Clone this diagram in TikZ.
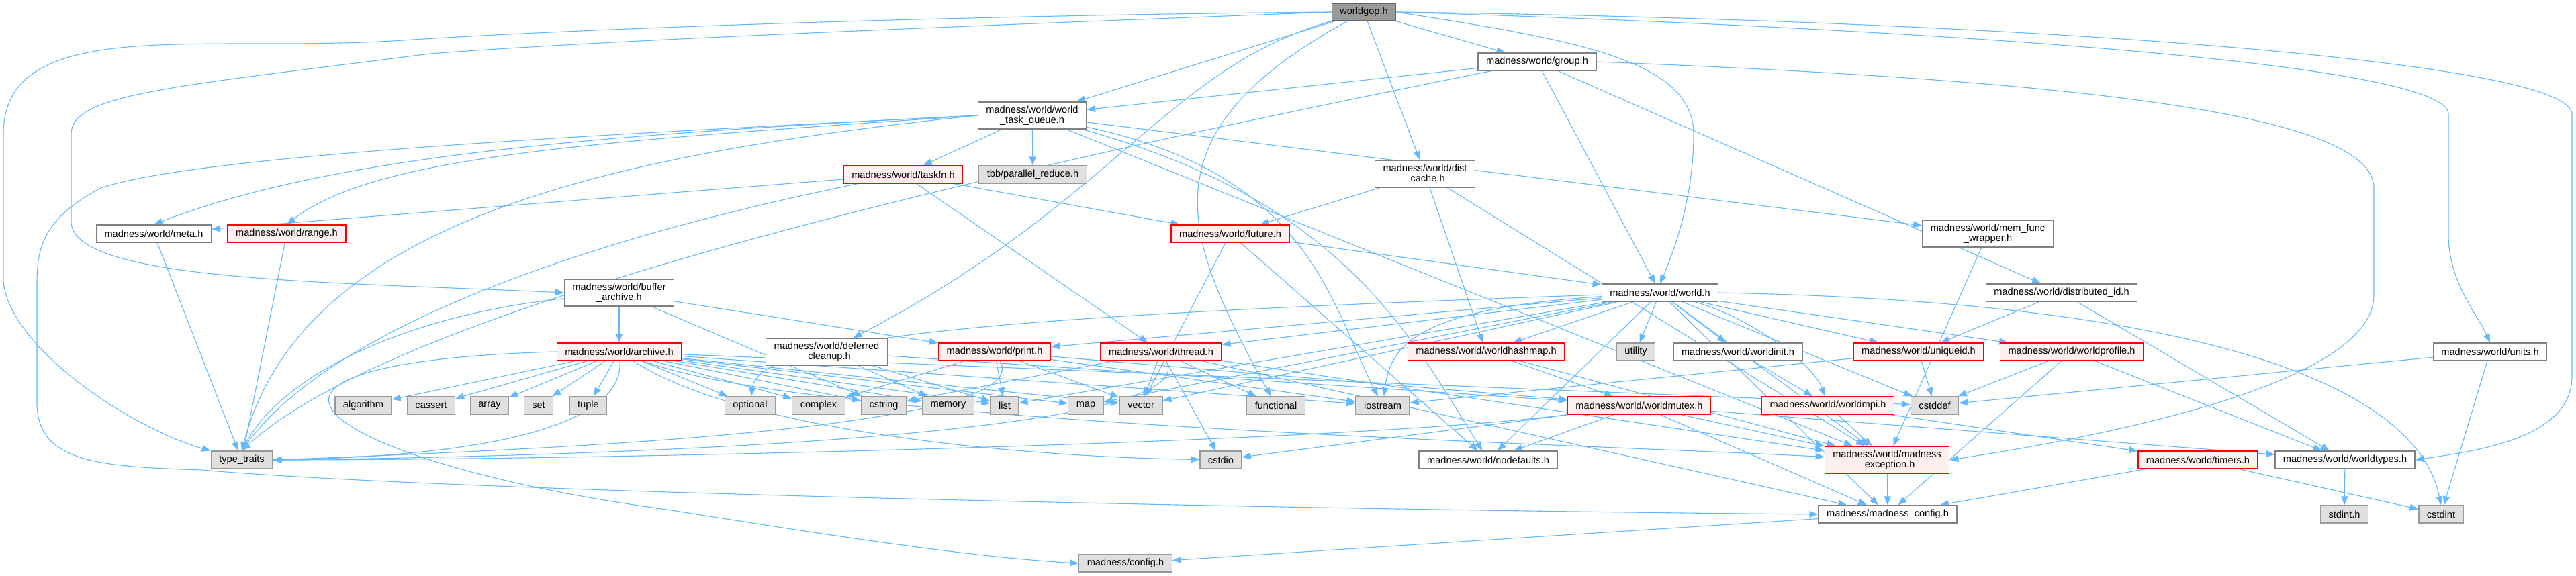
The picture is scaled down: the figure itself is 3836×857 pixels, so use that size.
\documentclass[tikz,border=0pt]{standalone}
\usepackage{fontspec}
\setmainfont{Liberation Sans}
\usetikzlibrary{arrows.meta,backgrounds}
\definecolor{edgeBlue}{RGB}{99,184,255}
\definecolor{redFill}{RGB}{255,240,240}
\definecolor{sysFill}{RGB}{224,224,224}
\definecolor{sysLine}{RGB}{153,153,153}
\definecolor{hdrLine}{RGB}{128,128,128}
\definecolor{rootFill}{RGB}{153,153,153}
\definecolor{rootLine}{RGB}{102,102,102}

\begin{document}
\begin{tikzpicture}[x=1pt, y=-1pt, >={Triangle[length=13pt,width=10pt]},
  hdr/.style={draw=hdrLine, fill=white, line width=1.3pt, font=\fontsize{14.6}{15}\selectfont,
    inner xsep=12pt, inner ysep=2pt, minimum height=26pt, align=center},
  redhdr/.style={hdr, draw=red, fill=redFill},
  syshdr/.style={hdr, draw=sysLine, fill=sysFill},
  roothdr/.style={hdr, draw=rootLine, fill=rootFill},
  twoline/.style={minimum height=40pt},
  dep/.style={->, draw=edgeBlue, line width=1.1pt}]
\useasboundingbox (0,0) rectangle (3836,857);

% top ranks
\node[roothdr] (gop) at (2031,18) {worldgop.h};
\node[hdr] (grp) at (2289,92) {madness/world/group.h};
\node[hdr, twoline] (wtq) at (1537,172) {madness/world/world\\\_task\_queue.h};
\node[hdr, twoline] (dcache) at (2122,259) {madness/world/dist\\\_cache.h};
\node[redhdr] (taskfn) at (1345,260) {madness/world/taskfn.h};
\node[syshdr] (tbb) at (1538,260) {tbb/parallel\_reduce.h};
\node[hdr] (meta) at (229,348) {madness/world/meta.h};
\node[redhdr] (range) at (427,348) {madness/world/range.h};
\node[redhdr] (future) at (1832,348) {madness/world/future.h};
\node[hdr, twoline] (memfn) at (2960,348) {madness/world/mem\_func\\\_wrapper.h};
\node[hdr, twoline] (bufar) at (922,436) {madness/world/buffer\\\_archive.h};
\node[hdr] (world) at (2472,436) {madness/world/world.h};
\node[hdr] (distid) at (3070,436) {madness/world/distributed\_id.h};

% middle rank
\node[redhdr] (archive) at (922,524) {madness/world/archive.h};
\node[hdr, twoline] (defcl) at (1231,524) {madness/world/deferred\\\_cleanup.h};
\node[redhdr] (print) at (1481,524) {madness/world/print.h};
\node[redhdr] (thread) at (1729,524) {madness/world/thread.h};
\node[redhdr] (whash) at (2213,524) {madness/world/worldhashmap.h};
\node[syshdr] (utility) at (2436,524) {utility};
\node[hdr] (winit) at (2588,524) {madness/world/worldinit.h};
\node[redhdr] (uniq) at (2857,524) {madness/world/uniqueid.h};
\node[redhdr] (wprof) at (3085,524) {madness/world/worldprofile.h};
\node[hdr] (units) at (3708,524) {madness/world/units.h};

% system headers
\node[syshdr] (algorithm) at (541,604) {algorithm};
\node[syshdr] (cassert) at (642,604) {cassert};
\node[syshdr] (array) at (729,604) {array};
\node[syshdr] (set) at (802,604) {set};
\node[syshdr] (tuple) at (876,604) {tuple};
\node[syshdr] (optional) at (1117,604) {optional};
\node[syshdr] (complex) at (1219,604) {complex};
\node[syshdr] (cstring) at (1316,604) {cstring};
\node[syshdr] (memory) at (1412,604) {memory};
\node[syshdr] (list) at (1496,604) {list};
\node[syshdr] (map) at (1617,604) {map};
\node[syshdr] (vector) at (1699,604) {vector};
\node[syshdr] (functional) at (1900,604) {functional};
\node[syshdr] (iostream) at (2059,604) {iostream};
\node[redhdr] (wmutex) at (2441,604) {madness/world/worldmutex.h};
\node[redhdr] (wmpi) at (2722,604) {madness/world/worldmpi.h};
\node[syshdr] (cstddef) at (2881,604) {cstddef};

% lower ranks
\node[syshdr] (typetraits) at (360,685) {type\_traits};
\node[syshdr] (cstdio) at (1818,685) {cstdio};
\node[hdr] (nodef) at (2216,685) {madness/world/nodefaults.h};
\node[redhdr, twoline] (mexc) at (2810,685) {madness/world/madness\\\_exception.h};
\node[redhdr] (timers) at (3273,685) {madness/world/timers.h};
\node[hdr] (wtypes) at (3492,685) {madness/world/worldtypes.h};
\node[hdr] (mconf) at (2811,766) {madness/madness\_config.h};
\node[syshdr] (stdint) at (3491,766) {stdint.h};
\node[syshdr] (cstdint) at (3635,766) {cstdint};
\node[syshdr] (config) at (1676,839) {madness/config.h};

\begin{pgfonlayer}{background}
% worldgop.h
\draw[dep] (gop.west) .. controls (1500,22) and (900,40) .. (600,60) .. controls (300,80) and (5,20) .. (5,200) -- (5,420) .. controls (15,520) and (200,640) .. (typetraits.north west);
\draw[dep] (gop.west) .. controls (1400,40) and (900,60) .. (640,80) .. controls (250,130) and (106,140) .. (106,200) -- (106,330) .. controls (106,420) and (500,420) .. (bufar.west);
\draw[dep] (gop) -- (wtq);
\draw[dep] (gop) .. controls (1740,100) and (1660,300) .. (defcl);
\draw[dep] (gop) .. controls (1700,200) and (1760,350) .. (functional);
\draw[dep] (gop) -- (grp);
\draw[dep] (gop) -- (dcache);
\draw[dep] (gop.east) .. controls (2350,60) and (2522,90) .. (2522,200) .. controls (2522,300) and (2490,380) .. (world.north);
\draw[dep] (gop.east) .. controls (2800,40) and (3646,90) .. (3646,170) -- (3646,350) .. controls (3646,420) and (3690,470) .. (units.north);
\draw[dep] (gop.east) .. controls (3000,30) and (3830,90) .. (3830,170) -- (3830,560) .. controls (3830,650) and (3700,670) .. (wtypes.east);
% group.h
\draw[dep] (grp) -- (wtq);
\draw[dep] (grp) -- (world);
\draw[dep] (grp) -- (distid);
\draw[dep] (grp) .. controls (1500,250) and (600,450) .. (typetraits.north);
\draw[dep] (grp.east) .. controls (3100,120) and (3535,170) .. (3535,280) -- (3535,440) .. controls (3535,560) and (3200,640) .. (mexc.east);
% world_task_queue.h
\draw[dep] (wtq) -- (taskfn);
\draw[dep] (wtq) -- (tbb);
\draw[dep] (wtq.west) .. controls (900,200) and (500,230) .. (meta.north);
\draw[dep] (wtq.west) .. controls (900,210) and (560,230) .. (range.north);
\draw[dep] (wtq.west) .. controls (900,230) and (450,330) .. (typetraits.north);
\draw[dep] (wtq) -- (memfn);
\draw[dep] (wtq) .. controls (1950,260) and (1980,450) .. (iostream);
\draw[dep] (wtq) .. controls (2000,300) and (2100,500) .. (nodef);
\draw[dep] (wtq) -- (mexc);
\draw[dep] (wtq.west) .. controls (900,200) and (300,230) .. (150,280) .. controls (55,330) and (55,380) .. (55,430) -- (55,600) .. controls (55,690) and (150,695) .. (300,700) .. controls (700,735) and (2000,760) .. (mconf.west);
% dist_cache.h
\draw[dep] (dcache) -- (future);
\draw[dep] (dcache) -- (whash);
\draw[dep] (dcache) -- (mexc);
% taskfn.h
\draw[dep] (taskfn) -- (meta);
\draw[dep] (taskfn) .. controls (900,350) and (500,480) .. (typetraits.north);
\draw[dep] (taskfn) -- (future);
\draw[dep] (taskfn) -- (thread);
% future.h
\draw[dep] (future) -- (world);
\draw[dep] (future) -- (vector);
\draw[dep] (future) -- (nodef);
\draw[dep] (meta) -- (typetraits);
\draw[dep] (range) -- (typetraits);
% buffer_archive.h
\draw[dep] (bufar) -- (archive);
\draw[dep] (bufar) .. controls (600,470) and (420,560) .. (typetraits.north);
\draw[dep] (bufar) -- (print);
\draw[dep] (bufar) -- (cstring);
% world.h
\draw[dep] (world) -- (print);
\draw[dep] (world) -- (thread);
\draw[dep] (world) -- (whash);
\draw[dep] (world) -- (utility);
\draw[dep] (world) -- (winit);
\draw[dep] (world) -- (uniq);
\draw[dep] (world) -- (wprof);
\draw[dep] (world) .. controls (2600,470) and (2700,540) .. (wmpi);
\draw[dep] (world) -- (nodef);
\draw[dep] (world) -- (cstddef);
\draw[dep] (world.east) .. controls (3300,450) and (3600,580) .. (cstdint.north);
\draw[dep] (world) .. controls (2100,460) and (2070,520) .. (iostream);
\draw[dep] (world) -- (list);
\draw[dep] (world) -- (map);
\draw[dep] (world) -- (vector);
\draw[dep] (world) .. controls (1500,470) and (1130,500) .. (optional);
\draw[dep] (world) -- (mexc);
\draw[dep] (world) -- (mconf);
% distributed_id.h, mem_func_wrapper.h, units.h
\draw[dep] (distid) -- (uniq);
\draw[dep] (distid) -- (wtypes);
\draw[dep] (memfn) -- (mexc);
\draw[dep] (units) -- (cstddef);
\draw[dep] (units) -- (cstdint);
% deferred_cleanup.h
\draw[dep] (defcl) -- (list);
\draw[dep] (defcl) -- (memory);
\draw[dep] (defcl) -- (wmutex);
% archive.h
\draw[dep] (archive) -- (algorithm);
\draw[dep] (archive) -- (cassert);
\draw[dep] (archive) -- (array);
\draw[dep] (archive) -- (set);
\draw[dep] (archive) -- (tuple);
\draw[dep] (archive) -- (optional);
\draw[dep] (archive) -- (complex);
\draw[dep] (archive) -- (cstring);
\draw[dep] (archive) -- (memory);
\draw[dep] (archive) -- (list);
\draw[dep] (archive) -- (map);
\draw[dep] (archive) -- (vector);
\draw[dep] (archive) -- (iostream);
\draw[dep] (archive) .. controls (1100,640) and (1500,680) .. (cstdio);
\draw[dep] (archive) -- (cstddef);
\draw[dep] (archive) .. controls (930,640) and (700,680) .. (typetraits.east);
\draw[dep] (archive) .. controls (1200,630) and (2300,660) .. (mexc);
\draw[dep] (archive.west) .. controls (600,530) and (480,560) .. (490,600) .. controls (500,650) and (700,720) .. (1000,760) .. controls (1250,800) and (1450,830) .. (config.west);
% print.h
\draw[dep] (print) -- (complex);
\draw[dep] (print) -- (list);
\draw[dep] (print) -- (vector);
\draw[dep] (print) .. controls (1550,640) and (800,670) .. (typetraits.east);
\draw[dep] (print) -- (iostream);
\draw[dep] (print) -- (wmutex);
% thread.h
\draw[dep] (thread) -- (vector);
\draw[dep] (thread) -- (cstdio);
\draw[dep] (thread) -- (functional);
\draw[dep] (thread) .. controls (1800,650) and (900,680) .. (typetraits.east);
\draw[dep] (thread) -- (cstring);
\draw[dep] (thread) -- (mexc);
\draw[dep] (thread) -- (mconf);
% worldhashmap.h, worldmutex.h
\draw[dep] (whash) -- (wmutex);
\draw[dep] (whash) -- (mexc);
\draw[dep] (wmutex) -- (cstdio);
\draw[dep] (wmutex) -- (nodef);
\draw[dep] (wmutex) -- (mexc);
\draw[dep] (wmutex) -- (mconf);
\draw[dep] (wmutex) -- (wtypes);
\draw[dep] (wmutex.south west) .. controls (2000,660) and (900,685) .. (typetraits.east);
% uniqueid.h, worldprofile.h, worldinit.h, worldmpi.h
\draw[dep] (uniq) -- (cstddef);
\draw[dep] (uniq) -- (iostream);
\draw[dep] (wprof) -- (mconf);
\draw[dep] (wprof) -- (wtypes);
\draw[dep] (wprof) -- (cstddef);
\draw[dep] (winit) -- (wmpi);
\draw[dep] (wmpi) -- (timers);
\draw[dep] (wmpi) -- (mexc);
% bottom
\draw[dep] (mexc) -- (mconf);
\draw[dep] (timers) -- (cstdint);
\draw[dep] (timers) -- (mconf);
\draw[dep] (wtypes) -- (stdint);
\draw[dep] (mconf) -- (config);
\end{pgfonlayer}
\end{tikzpicture}
\end{document}
